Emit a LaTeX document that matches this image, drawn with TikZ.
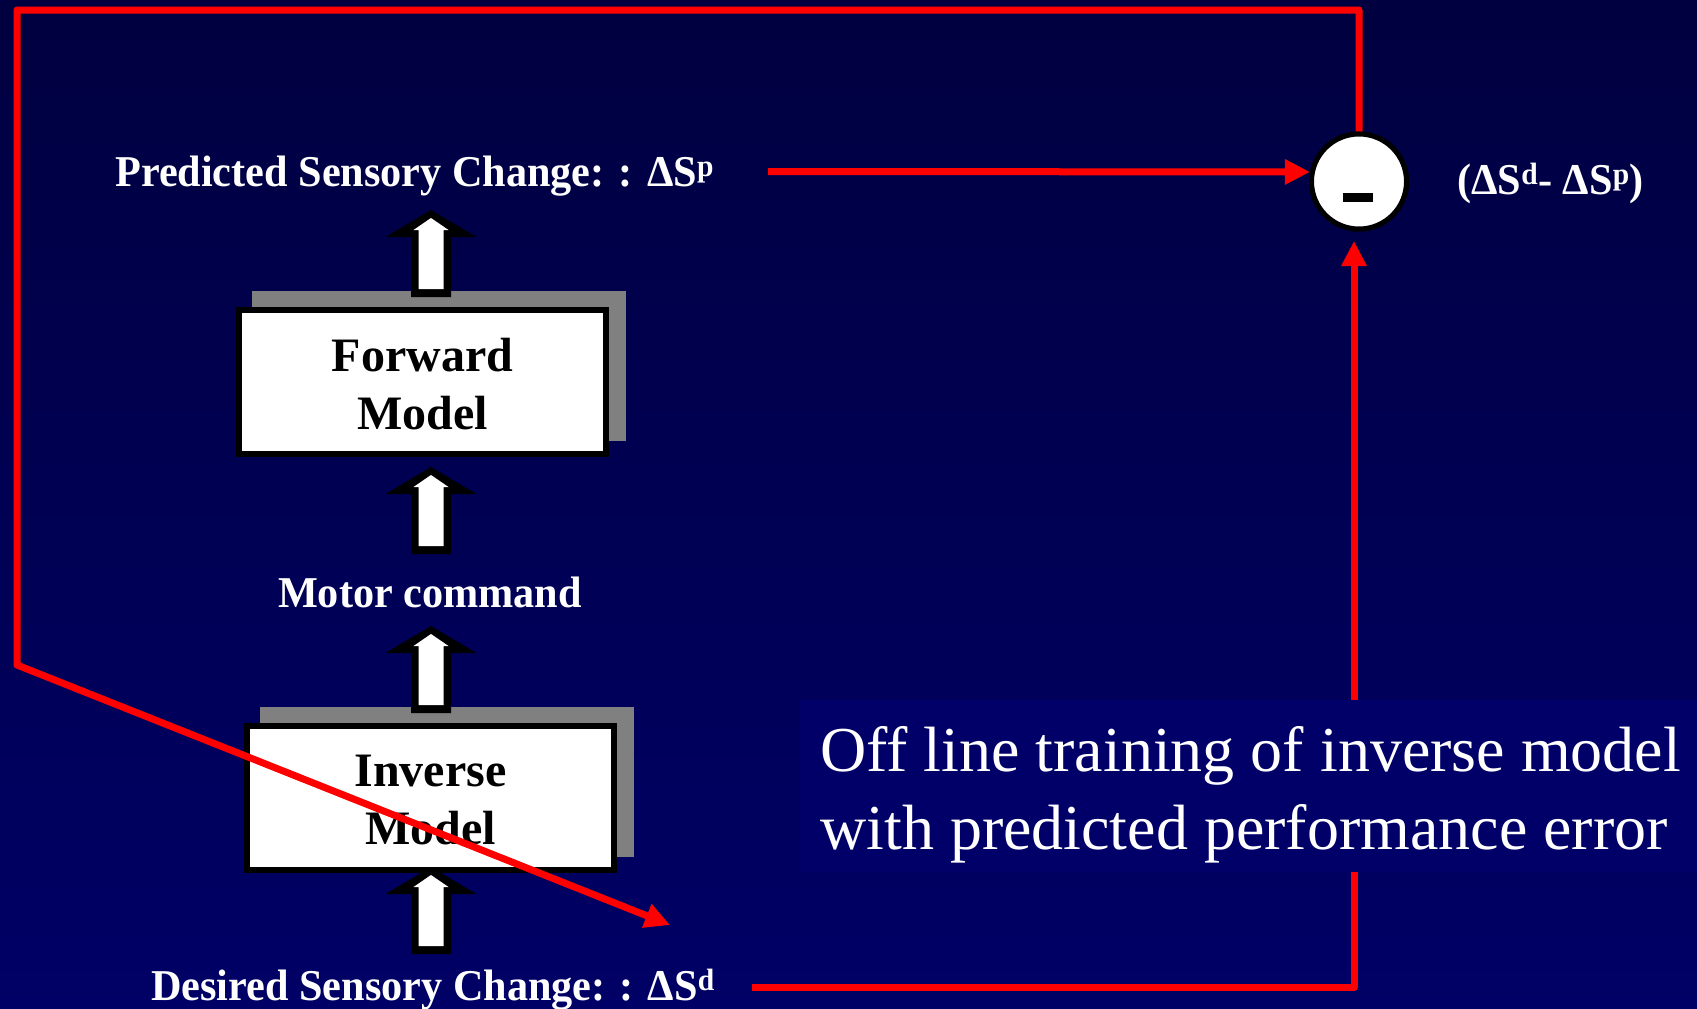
\documentclass[tikz,border=0pt]{standalone}
\usepackage{fontspec}
\setmainfont{Liberation Serif}
\newfontfamily\narrowserif{Liberation Serif}[FakeStretch=0.96]
\usetikzlibrary{arrows.meta,calc}

\definecolor{navytop}{RGB}{0,0,64}
\definecolor{navybot}{RGB}{0,0,102}
\definecolor{notefill}{RGB}{0,0,104}
\definecolor{plategray}{RGB}{128,128,128}
\definecolor{linkred}{RGB}{255,0,0}

\tikzset{
  labeltext/.style={text=white, inner sep=0pt, font=\narrowserif\bfseries\fontsize{44}{53}\selectfont},
  modelbox/.style={draw=black, line width=6pt, fill=white, minimum width=367pt,
    minimum height=144pt, inner sep=0pt, align=center,
    font=\bfseries\fontsize{48}{58}\selectfont},
  backplate/.style={fill=plategray, minimum width=374pt, minimum height=150pt, inner sep=0pt},
  link/.style={draw=linkred, line width=7pt, line join=round},
  redtip/.style={-{Triangle[length=25pt,width=24pt]}},
  pics/hollowup/.style={code={
    \fill[black] (0,0) -- (45.5,27) -- (20,27) -- (20,87) -- (-20,87) -- (-20,27) -- (-45.5,27) -- cycle;
    \fill[white] (0,8) -- (17.5,20) -- (12.5,20) -- (12.5,79) -- (-12.5,79) -- (-12.5,20) -- (-17.5,20) -- cycle;
  }}
}

\begin{document}
\begin{tikzpicture}[x=1pt, y=-1pt]
  \useasboundingbox (0,0) rectangle (1697,1009);
  \fill[top color=navytop, bottom color=navybot] (0,0) rectangle (1697,1009);

  % comparator
  \coordinate (diffpos) at (1359,181.5);

  % error path from the desired change up to the comparator
  \coordinate (desout) at (752,987);
  \coordinate (brcorner) at (1354,987);
  \coordinate (diffin) at (1354,241);
  \draw[link, redtip] (desout) -- (brcorner) -- (diffin);

  % caption panel
  \node[fill=notefill, minimum width=897pt, minimum height=172pt, inner sep=0pt] (note) at (1248.5,786) {};
  \node[anchor=west, text=white, inner sep=0pt, align=left,
        font=\fontsize{64}{78}\selectfont] (notetext) at (820,794.5)
        {Off line training of inverse model\\with predicted performance error};

  % model blocks with their back plates
  \node[backplate] (fwdplate) at (439,366) {};
  \node[modelbox] (forward) at (422.5,382) {};
  \node[backplate] (invplate) at (446.5,782) {};
  \node[modelbox] (inverse) at (430.5,798) {};
  \node[modelbox, draw=none, fill=none] (fwdtext) at (422.5,384) {Forward\\Model};
  \node[modelbox, draw=none, fill=none] (invtext) at (430.5,800) {Inverse\\Model};

  % hollow flow arrows
  \pic at (431,210) {hollowup};
  \pic at (431,467) {hollowup};
  \pic at (431,626) {hollowup};
  \pic at (431,867) {hollowup};

  % training loop around the picture
  \node[circle, draw=black, line width=5pt, fill=white, minimum size=95pt, inner sep=0pt] (diff) at (diffpos) {};
  \coordinate (tr) at (1359,10);
  \coordinate (tl) at (17,10);
  \coordinate (bl) at (17,665);
  \coordinate (diagtip) at (670,925);
  \draw[link, redtip] (diff.north) -- (tr) -- (tl) -- (bl) -- (diagtip);

  % predicted change into comparator
  \coordinate (predout) at (768,171.5);
  \draw[link, redtip] (predout) -- (diff.169);
  \node[circle, draw=black, line width=5pt, fill=white, minimum size=95pt, inner sep=0pt] (diffface) at (diffpos) {};
  \node[fill=black, minimum width=30pt, minimum height=9pt, inner sep=0pt] (minus) at (1358,197.5) {};

  % labels
  \node[labeltext, anchor=base west] (pred) at (115,186) {Predicted Sensory Change: : ΔS\textsuperscript{p}};
  \node[labeltext, anchor=base] (motor) at (430,607) {Motor command};
  \node[labeltext, anchor=base west] (desired) at (151,1000) {Desired Sensory Change: : ΔS\textsuperscript{d}};
  \node[labeltext, anchor=base west] (difflabel) at (1457,194) {(ΔS\textsuperscript{d}- ΔS\textsuperscript{p})};
\end{tikzpicture}
\end{document}
